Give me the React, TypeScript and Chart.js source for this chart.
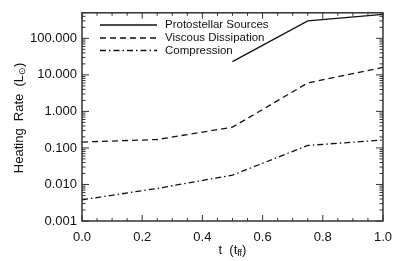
import React, { useEffect, useRef } from "react";
import { Chart, registerables } from "chart.js";

Chart.register(...registerables);

const tValues = [0, 0.25, 0.5, 0.75, 1.0];
const protoT = [0.5, 0.75, 1.0];
const protoRate = [23, 300, 450];
const viscousRate = [0.145, 0.17, 0.37, 6.0, 16];
const compressionRate = [0.0038, 0.0078, 0.018, 0.117, 0.165];
const yTickValues = [0.001, 0.01, 0.1, 1, 10, 100];
const xTickValues = [0, 0.2, 0.4, 0.6, 0.8, 1.0];
const seriesNames = ["Protostellar Sources", "Viscous Dissipation", "Compression"];
const seriesDash: number[][] = [[], [6, 4], [6, 3, 1.5, 3]];

const FONT = "'Liberation Sans', Arial, Helvetica, sans-serif";
const INK = "#111";

const frameAndDecor = {
  id: "frameAndDecor",
  afterDraw(chart: any) {
    const ctx = chart.ctx;
    const { left, right, top, bottom } = chart.chartArea;
    const xs = chart.scales.x;
    const ys = chart.scales.y;
    ctx.save();
    // frame
    ctx.strokeStyle = "#333";
    ctx.lineWidth = 1.5;
    ctx.setLineDash([]);
    ctx.strokeRect(left, top, right - left, bottom - top);
    // x ticks (bottom & top, inward)
    ctx.lineWidth = 1;
    for (let i = 0; i <= 20; i++) {
      const v = i * 0.05;
      const px = xs.getPixelForValue(v);
      const len = i % 4 === 0 ? 6 : 3;
      ctx.beginPath();
      ctx.moveTo(px, bottom);
      ctx.lineTo(px, bottom - len);
      ctx.moveTo(px, top);
      ctx.lineTo(px, top + len);
      ctx.stroke();
    }
    // y ticks (left & right, inward)
    for (let e = -3; e <= 2; e++) {
      for (let m = 1; m <= 9; m++) {
        const v = m * Math.pow(10, e);
        if (v > ys.max) continue;
        const py = ys.getPixelForValue(v);
        const len = m === 1 ? 7 : 3.5;
        ctx.beginPath();
        ctx.moveTo(left, py);
        ctx.lineTo(left + len, py);
        ctx.moveTo(right, py);
        ctx.lineTo(right - len, py);
        ctx.stroke();
      }
    }
    // legend
    const rows = [25, 38, 50.5];
    ctx.font = `11.5px ${FONT}`;
    ctx.fillStyle = INK;
    ctx.textBaseline = "middle";
    ctx.textAlign = "left";
    seriesNames.forEach((name, i) => {
      ctx.strokeStyle = INK;
      ctx.lineWidth = 1.3;
      ctx.setLineDash(seriesDash[i]);
      ctx.beginPath();
      ctx.moveTo(100, rows[i]);
      ctx.lineTo(157, rows[i]);
      ctx.stroke();
      ctx.setLineDash([]);
      ctx.fillText(name, 165, rows[i]);
    });
    // x title: t (t_ff)
    const cx = (left + right) / 2;
    const main = `13px ${FONT}`;
    const sub = `9px ${FONT}`;
    ctx.font = main;
    const p1 = "t  (t";
    const p3 = ")";
    const w1 = ctx.measureText(p1).width;
    const w3 = ctx.measureText(p3).width;
    ctx.font = sub;
    const w2 = ctx.measureText("ff").width;
    let x0 = cx - (w1 + w2 + w3) / 2;
    const yb = 250;
    ctx.font = main;
    ctx.fillText(p1, x0, yb);
    ctx.font = sub;
    ctx.fillText("ff", x0 + w1, yb + 4);
    ctx.font = main;
    ctx.fillText(p3, x0 + w1 + w2, yb);
    // y title: Heating Rate (L_sun)
    ctx.save();
    ctx.translate(19, (top + bottom) / 2 + 1);
    ctx.rotate(-Math.PI / 2);
    const q1 = "Heating  Rate  (L";
    const q2 = "\u2299";
    const q3 = ")";
    ctx.font = main;
    const v1 = ctx.measureText(q1).width;
    const v3 = ctx.measureText(q3).width;
    ctx.font = sub;
    const v2 = ctx.measureText(q2).width;
    x0 = -(v1 + v2 + v3) / 2;
    ctx.font = main;
    ctx.fillText(q1, x0, 0);
    ctx.font = sub;
    ctx.fillText(q2, x0 + v1, 4);
    ctx.font = main;
    ctx.fillText(q3, x0 + v1 + v2, 0);
    ctx.restore();
    ctx.restore();
  },
};

export default function App() {
  const ref = useRef<HTMLCanvasElement | null>(null);
  useEffect(() => {
    if (!ref.current) return;
    const chart = new Chart(ref.current, {
      type: "line",
      data: {
        datasets: [
          {
            label: seriesNames[0],
            data: protoT.map((t, i) => ({ x: t, y: protoRate[i] })),
            borderColor: INK,
            borderWidth: 1.3,
            borderDash: seriesDash[0],
            pointRadius: 0,
            fill: false,
          },
          {
            label: seriesNames[1],
            data: tValues.map((t, i) => ({ x: t, y: viscousRate[i] })),
            borderColor: INK,
            borderWidth: 1.3,
            borderDash: seriesDash[1],
            pointRadius: 0,
            fill: false,
          },
          {
            label: seriesNames[2],
            data: tValues.map((t, i) => ({ x: t, y: compressionRate[i] })),
            borderColor: INK,
            borderWidth: 1.3,
            borderDash: seriesDash[2],
            pointRadius: 0,
            fill: false,
          },
        ],
      },
      options: {
        animation: false,
        responsive: true,
        maintainAspectRatio: false,
        layout: { padding: { top: 5, right: 14, left: 0, bottom: 0 } },
        plugins: { legend: { display: false }, tooltip: { enabled: false } },
        scales: {
          x: {
            type: "linear",
            min: 0,
            max: 1,
            grid: { display: false, drawTicks: false },
            border: { display: false },
            afterBuildTicks: (scale: any) => {
              scale.ticks = xTickValues.map((v) => ({ value: v }));
            },
            afterFit: (scale: any) => {
              scale.height = 40;
            },
            ticks: {
              autoSkip: false,
              maxRotation: 0,
              padding: 9,
              color: INK,
              font: { size: 13, family: FONT },
              callback: (v: any) => Number(v).toFixed(1),
            },
          },
          y: {
            type: "logarithmic",
            min: 0.001,
            max: 500,
            grid: { display: false, drawTicks: false },
            border: { display: false },
            afterBuildTicks: (scale: any) => {
              scale.ticks = yTickValues.map((v) => ({ value: v }));
            },
            afterFit: (scale: any) => {
              scale.width = 82;
            },
            ticks: {
              autoSkip: false,
              padding: 5,
              color: INK,
              font: { size: 13, family: FONT },
              callback: (v: any) => Number(v).toFixed(3),
            },
          },
        },
      },
      plugins: [frameAndDecor],
    } as any);
    return () => chart.destroy();
  }, []);
  return (
    <div style={{ position: "absolute", left: 0, top: 0, width: 401, height: 261, background: "#fff" }}>
      <canvas ref={ref} />
    </div>
  );
}
